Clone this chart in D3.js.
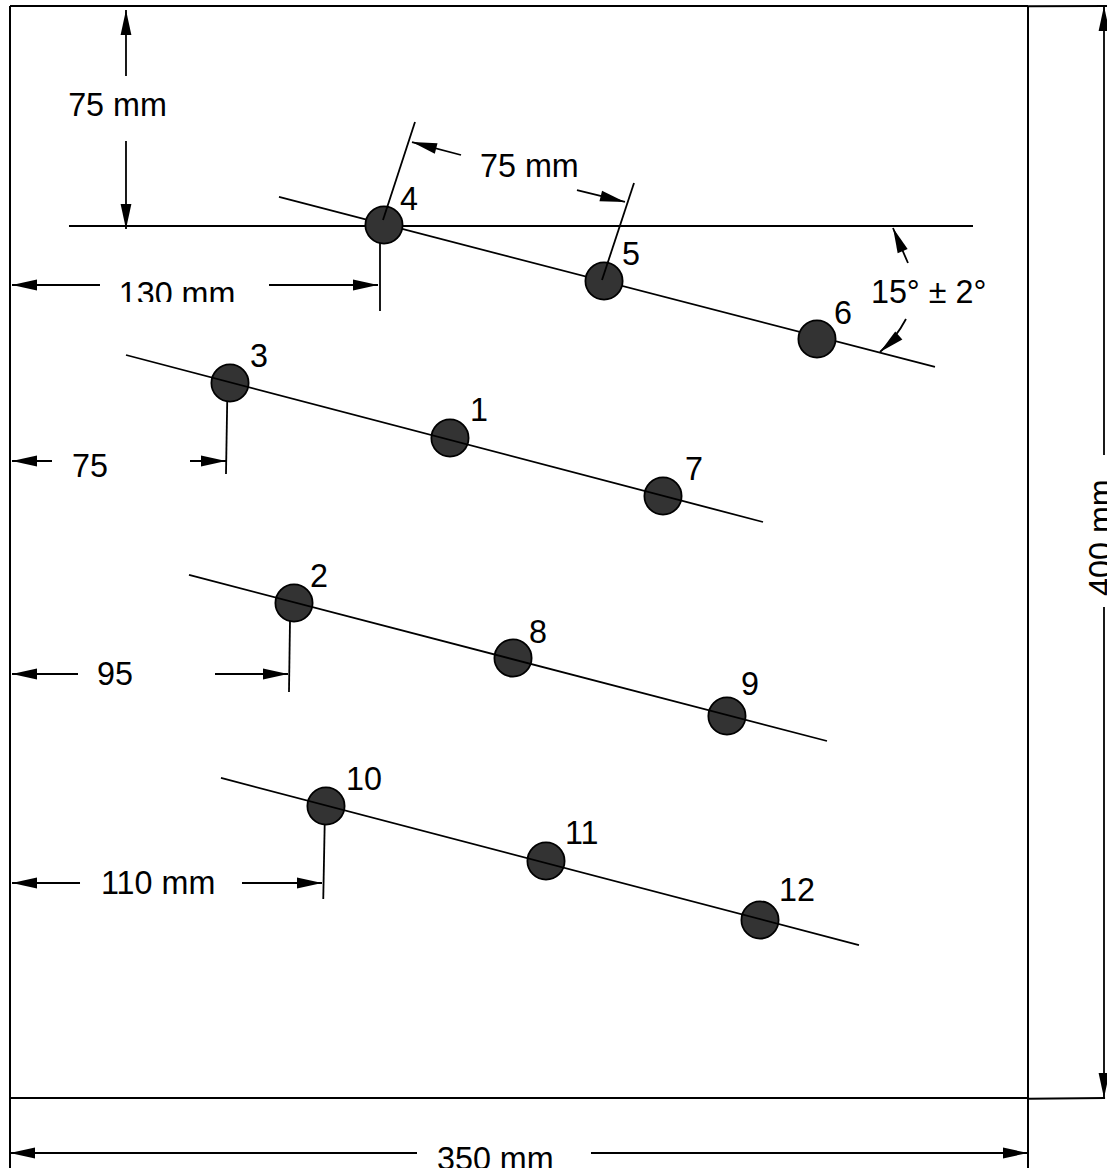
<!DOCTYPE html>
<html>
<head>
<meta charset="utf-8">
<script src="https://cdnjs.cloudflare.com/ajax/libs/d3/7.8.5/d3.min.js"></script>
<style>html,body{margin:0;padding:0;background:#fff;overflow:hidden}svg{display:block}</style>
</head>
<body>
<script>
// Everything is in millimetres on the 350 x 400 mm panel
const holeIds = [1,2,3,4,5,6,7,8,9,10,11,12];
const holeX = [151.27,97.64,75.64,128.58,204.23,277.45,224.51,172.94,246.50,108.64,184.28,257.86];
const holeY = [158.24,218.68,138.10,80.22,100.73,121.98,179.49,238.83,260.07,293.04,313.19,334.80];
const holeLabelDx = [20,16,20,16,18,17,22,16,14,20,19,19];
const holeLabelDy = [-17,-16,-16,-15,-16,-15,-16,-15,-21,-16,-17,-19];

const topRowLine = [[92.48,69.96,318.02,132.23]];
const rowLines = [
  [39.88,127.84,258.89,189.01],
  [61.54,208.42,280.89,269.23],
  [72.54,282.78,291.89,343.96]
];
const frameLines = [
  [0,0,350,0],[0,0,0,425.64],[350,0,350,425.64],[0,400,350,400],
  [350,0.05,377.2,0],[350,400.3,376.5,400]
];
const datumLine = [[20.28,80.59,331.09,80.59]];
const witnessLines = [
  [127.21,86.81,127.21,111.72],[74.7,143.59,74.26,171.43],
  [96.27,224.91,95.92,251.28],[108.2,299.27,107.7,327.11]
];
const slantWitness = [
  [139.24,42.49,128.24,78.39],[214.54,64.84,203.54,100.37]
];
// tail x, tail y, tip x, tip y
const arrows = [
  [39.88,25.64,39.88,1.47],[39.88,49.45,39.88,81.68],
  [30.94,102.2,0.69,102.2],[89.05,102.2,126.52,102.2],
  [14.44,166.67,0.69,166.67],[61.89,166.67,74.26,166.67],
  [23.38,244.69,0.69,244.69],[70.48,244.69,95.58,244.69],
  [24.07,321.25,0.69,321.25],[79.76,321.25,107.27,321.25],
  [139.93,420.15,0,420.15],[199.75,420.15,350,420.15],
  [376.13,164.47,376.13,0],[376.13,220.15,376.13,400],
  [155.06,54.58,138.21,49.82],[194.94,67.4,211.44,71.79]
];
// tail x, tail y, bend x, bend y, tip x, tip y
const curvedArrows = [
  [308.74,94.14,306.33,88.28,303.58,81.32],
  [308.05,114.65,304.61,121.61,299.11,126.74]
];
const dimTexts = ["75 mm","130 mm","75 mm","15° ± 2°","75","95","110 mm","350 mm"];
const dimTextX = [20.0,37.4,161.6,296.0,21.3,29.9,31.3,146.8];
const dimTextY = [40.3,109.5,62.6,108.8,172.5,248.7,325.3,426.2];
const sideText = "400 mm";
const sideTextX = 379.0, sideTextY = 216.1;

const W = 1107, H = 1168;
const x = d3.scaleLinear().domain([0,350]).range([10,1028]);
const y = d3.scaleLinear().domain([0,400]).range([6,1098]);

const svg = d3.select("body").append("svg").attr("width",W).attr("height",H).attr("viewBox",`0 0 ${W} ${H}`);
const defs = svg.append("defs");
defs.append("clipPath").attr("id","cut130").append("rect").attr("x",0).attr("y",0).attr("width",W).attr("height",302);
svg.append("rect").attr("width",W).attr("height",H).attr("fill","#fff");

function segs(data, sw){
  svg.append("g").attr("stroke","#000").attr("stroke-width",sw).attr("fill","none")
    .selectAll("line").data(data).join("line")
    .attr("x1",d=>x(d[0])).attr("y1",d=>y(d[1])).attr("x2",d=>x(d[2])).attr("y2",d=>y(d[3]));
}
segs(frameLines,2);
segs(datumLine,2);
segs(topRowLine,1.8);
segs(witnessLines,1.8);

function head(tx,ty,fromX,fromY){
  const L=25, W2=5.4, a=Math.atan2(ty-fromY,tx-fromX), c=Math.cos(a), s=Math.sin(a);
  const bx=tx-L*c, by=ty-L*s;
  return `${tx},${ty} ${bx-W2*s},${by+W2*c} ${bx+W2*s},${by-W2*c}`;
}
const ag = svg.append("g");
ag.selectAll("line").data(arrows).join("line")
  .attr("x1",d=>x(d[0])).attr("y1",d=>y(d[1])).attr("x2",d=>x(d[2])).attr("y2",d=>y(d[3]))
  .attr("stroke","#000").attr("stroke-width",1.8);
ag.selectAll("polygon.s").data(arrows).join("polygon").attr("class","s")
  .attr("points",d=>head(x(d[2]),y(d[3]),x(d[0]),y(d[1]))).attr("fill","#000");
ag.selectAll("path").data(curvedArrows).join("path")
  .attr("d",d=>{const p=d3.path();p.moveTo(x(d[0]),y(d[1]));p.quadraticCurveTo(x(d[2]),y(d[3]),x(d[4]),y(d[5]));return p.toString();})
  .attr("fill","none").attr("stroke","#000").attr("stroke-width",1.8);
ag.selectAll("polygon.c").data(curvedArrows).join("polygon").attr("class","c")
  .attr("points",d=>head(x(d[4]),y(d[5]),x(d[2]),y(d[3]))).attr("fill","#000");

const holes = holeIds.map((id,i)=>({id,x:holeX[i],y:holeY[i],dx:holeLabelDx[i],dy:holeLabelDy[i]}));
svg.append("g").selectAll("circle").data(holes).join("circle")
  .attr("cx",d=>x(d.x)).attr("cy",d=>y(d.y)).attr("r",18.6)
  .attr("fill","#333").attr("stroke","#000").attr("stroke-width",1.8);
segs(rowLines,1.8);
segs(slantWitness,1.8);

const font = "'Liberation Sans',Arial,sans-serif";
const tg = svg.append("g").attr("font-family",font).attr("font-size",32.3).attr("fill","#000");
tg.selectAll("text.h").data(holes).join("text").attr("class","h")
  .attr("x",d=>x(d.x)+d.dx).attr("y",d=>y(d.y)+d.dy).text(d=>d.id);
tg.selectAll("text.d").data(dimTexts).join("text").attr("class","d")
  .attr("x",(d,i)=>x(dimTextX[i])).attr("y",(d,i)=>y(dimTextY[i])).text(d=>d)
  .attr("clip-path",d=>d==="130 mm"?"url(#cut130)":null);
tg.append("text").attr("transform",`translate(${x(sideTextX)},${y(sideTextY)}) rotate(-90)`).text(sideText);
</script>
</body>
</html>
